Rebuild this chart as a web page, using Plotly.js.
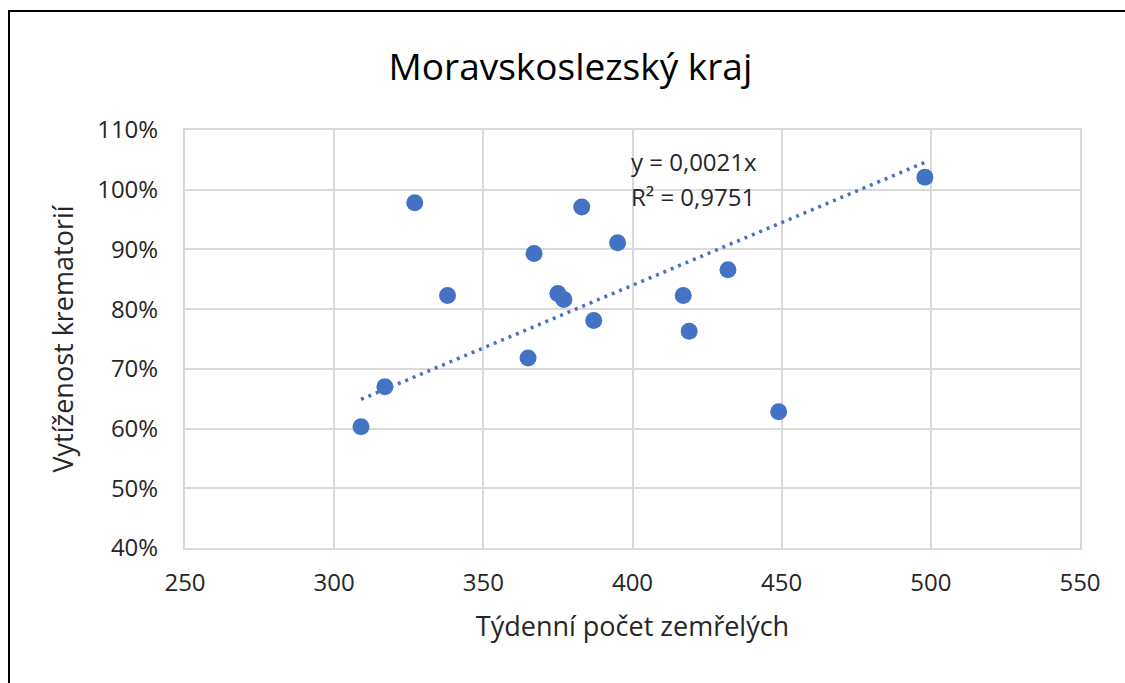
<!DOCTYPE html>
<html>
<head>
<meta charset="utf-8">
<script src="https://cdn.plot.ly/plotly-3.0.1.min.js"></script>
<style>
html,body{margin:0;padding:0;background:#fff;}
#frame{position:absolute;left:8px;top:10px;width:1117px;height:673px;border-left:2px solid #000;border-top:2px solid #000;box-sizing:border-box;}
#chart{position:absolute;left:0;top:0;width:1125px;height:683px;}
</style>
</head>
<body>
<div id="chart"></div>
<div id="frame"></div>
<script>
const weeklyDeaths = [309, 317, 327, 338, 365, 367, 375, 377, 383, 387, 395, 417, 419, 432, 449, 498];
const utilization  = [0.603, 0.670, 0.978, 0.823, 0.718, 0.893, 0.826, 0.816, 0.971, 0.781, 0.911, 0.823, 0.763, 0.866, 0.628, 1.021];
const trendSlope = 0.0021;
const trendLabel = ["y = 0,0021x", "R² = 0,9751"];
const chartTitle = "Moravskoslezský kraj";
const xTitle = "Týdenní počet zemřelých";
const yTitle = "Vytíženost krematorií";

const xMin = Math.min(...weeklyDeaths), xMax = Math.max(...weeklyDeaths);
const trendX = [xMin, xMax];
const trendY = trendX.map(v => v * trendSlope);

const font = "Open Sans, sans-serif";
const blue = "#4472C4";
const grid = "#d9d9d9";
const txt = "#262626";

const data = [
  {x: trendX, y: trendY, mode: "lines", type: "scatter",
   line: {color: blue, width: 3.5, dash: "3px,5px"}, hoverinfo: "skip", showlegend: false},
  {x: weeklyDeaths, y: utilization, mode: "markers", type: "scatter",
   marker: {color: blue, size: 17}, showlegend: false}
];

const layout = {
  width: 1125, height: 683,
  margin: {l: 185, r: 45, t: 130, b: 135},
  paper_bgcolor: "#fff", plot_bgcolor: "#fff",
  font: {family: font, color: txt, size: 20},
  title: {text: chartTitle, font: {family: font, size: 37, color: "#000"},
          x: 0.507, xanchor: "center", y: 1 - 67/683, yanchor: "middle", yref: "container"},
  xaxis: {range: [250, 550], dtick: 50, tick0: 250, showgrid: true, gridcolor: grid, gridwidth: 2,
          zeroline: false, showline: true, linecolor: grid, linewidth: 2, mirror: true,
          ticks: "", ticklabelstandoff: 12, tickfont: {family: font, size: 24, color: txt},
          title: {text: xTitle, font: {family: font, size: 27, color: txt}, standoff: 20}},
  yaxis: {range: [0.4, 1.1], dtick: 0.1, tick0: 0.4, tickformat: ".0%", showgrid: true, gridcolor: grid, gridwidth: 2,
          zeroline: false, showline: true, linecolor: grid, linewidth: 2, mirror: true,
          ticks: "", ticklabelstandoff: 20, tickfont: {family: font, size: 24, color: txt},
          title: {text: yTitle, font: {family: font, size: 27, color: txt}, standoff: 16}},
  annotations: [
    {x: 0, y: 0, xref: "paper", yref: "paper", xanchor: "left", yanchor: "middle", showarrow: false,
     text: trendLabel[0], font: {family: font, size: 24, color: txt}},
    {x: 0, y: 0, xref: "paper", yref: "paper", xanchor: "left", yanchor: "middle", showarrow: false,
     text: trendLabel[1], font: {family: font, size: 24, color: txt}}
  ]
};
const pw = 1125 - 185 - 45, ph = 683 - 130 - 135;
layout.annotations[0].x = (629 - 185) / pw; layout.annotations[0].y = 1 - (161 - 130) / ph;
layout.annotations[1].x = (629 - 185) / pw; layout.annotations[1].y = 1 - (196 - 130) / ph;

Plotly.newPlot("chart", data, layout, {displayModeBar: false, staticPlot: true});
</script>
</body>
</html>
